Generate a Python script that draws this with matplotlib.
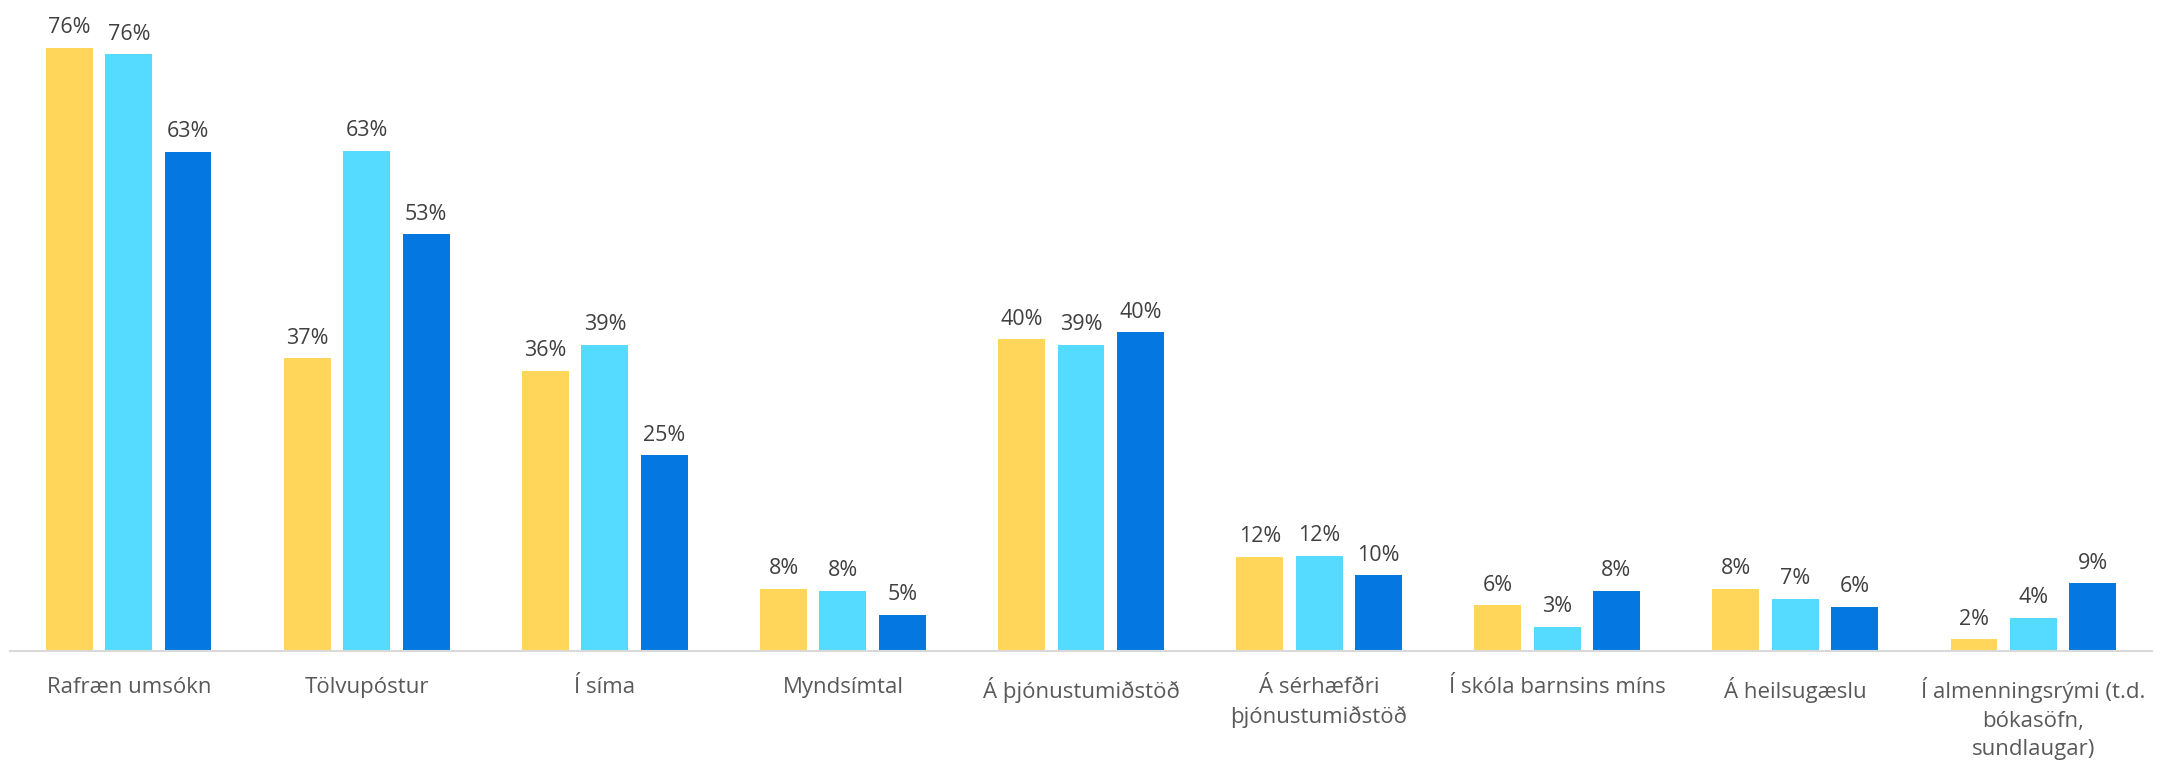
import matplotlib
matplotlib.use("Agg")
import matplotlib.pyplot as plt
import numpy as np

categories = ["Rafræn umsókn", "Tölvupóstur", "Í síma", "Myndsímtal", "Á þjónustumiðstöð",
              "Á sérhæfðri\nþjónustumiðstöð", "Í skóla barnsins míns", "Á heilsugæslu",
              "Í almenningsrými (t.d.\nbókasöfn,\nsundlaugar)"]
series_a = [76.4, 37.1, 35.5, 7.9, 39.5, 11.9, 5.8, 7.9, 1.5]
series_b = [75.6, 63.4, 38.8, 7.6, 38.8, 12.1, 3.1, 6.6, 4.2]
series_c = [63.3, 52.8, 24.8, 4.6, 40.4, 9.6, 7.6, 5.6, 8.6]

colors = ["#FFD55A", "#55DBFF", "#0478E0"]

plt.rcParams['font.family'] = ['Open Sans', 'DejaVu Sans']

fig = plt.figure(figsize=(21.62, 7.66), dpi=100)
ax = fig.add_axes([0.0045, 0.150, 0.991, 0.850])

x = np.arange(len(categories))
step = 0.249
width = 0.197
for i, (vals, col) in enumerate(zip([series_a, series_b, series_c], colors)):
    pos = x + (i - 1) * step
    ax.bar(pos, vals, width=width, color=col, zorder=2)
    for px, v in zip(pos, vals):
        ax.annotate(f"{round(v):.0f}%", (px, v), xytext=(0, 7), textcoords="offset points",
                    ha="center", va="bottom", fontsize=15.5, color="#404040")

ax.set_xlim(-0.5, len(categories) - 0.5)
ax.set_ylim(0, 82.5)
ax.set_yticks([])
ax.set_xticks(x)
ax.set_xticklabels(categories, fontsize=16, color="#595959", linespacing=1.45)
ax.tick_params(axis="x", length=0, pad=19)
for s in ["top", "right", "left"]:
    ax.spines[s].set_visible(False)
ax.spines["bottom"].set_color("#D9D9D9")
ax.spines["bottom"].set_linewidth(1.5)

fig.savefig("out.png", dpi=100)
